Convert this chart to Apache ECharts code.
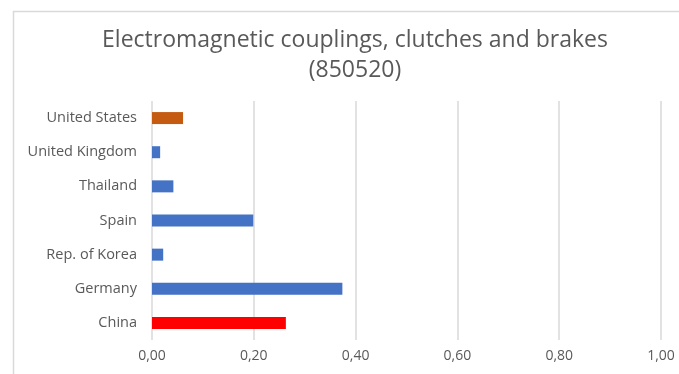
<!DOCTYPE html>
<html>
<head>
<meta charset="utf-8">
<script src="https://cdn.jsdelivr.net/npm/echarts@6/dist/echarts.min.js"></script>
<style>
html,body{margin:0;padding:0;background:#fff;}
#main{width:679px;height:374px;}
</style>
</head>
<body>
<div id="main"></div>
<script>
var titleText = 'Electromagnetic couplings, clutches and brakes\n(850520)';
var categories = ['China', 'Germany', 'Rep. of Korea', 'Spain', 'Thailand', 'United Kingdom', 'United States'];
var values = [0.263, 0.374, 0.022, 0.199, 0.042, 0.016, 0.061];
var barColors = ['#FF0000', '#4472C4', '#4472C4', '#4472C4', '#4472C4', '#4472C4', '#C55A11'];
var xTicks = [0, 0.2, 0.4, 0.6, 0.8, 1.0];

var chart = echarts.init(document.getElementById('main'));
chart.setOption({
  animation: false,
  backgroundColor: '#ffffff',
  graphic: [{
    type: 'rect',
    left: 11, top: 9,
    shape: {width: 700, height: 400},
    style: {fill: 'none', stroke: '#d9d9d9', lineWidth: 1.5},
    silent: true
  }],
  title: {
    text: titleText,
    left: 350, top: 20,
    textAlign: 'center',
    textStyle: {fontFamily: 'Open Sans', fontSize: 23, fontWeight: 'normal', color: '#595959', lineHeight: 30}
  },
  grid: {left: 152, right: 18, top: 101, bottom: 34},
  xAxis: {
    type: 'value',
    min: xTicks[0], max: xTicks[xTicks.length - 1], interval: 0.2,
    axisLine: {show: false},
    axisTick: {show: false},
    splitLine: {show: true, lineStyle: {color: '#d9d9d9', width: 1.5}},
    axisLabel: {
      margin: 9,
      fontFamily: 'Open Sans', fontSize: 14, color: '#595959',
      formatter: function (v) { return v.toFixed(2).replace('.', ','); }
    }
  },
  yAxis: {
    type: 'category',
    data: categories,
    axisLine: {show: false},
    axisTick: {show: false},
    axisLabel: {margin: 15, fontFamily: 'Open Sans', fontSize: 14.5, color: '#595959'}
  },
  series: [{
    type: 'bar',
    barWidth: 12,
    data: values.map(function (v, i) { return {value: v, itemStyle: {color: barColors[i]}}; })
  }]
});
</script>
</body>
</html>
